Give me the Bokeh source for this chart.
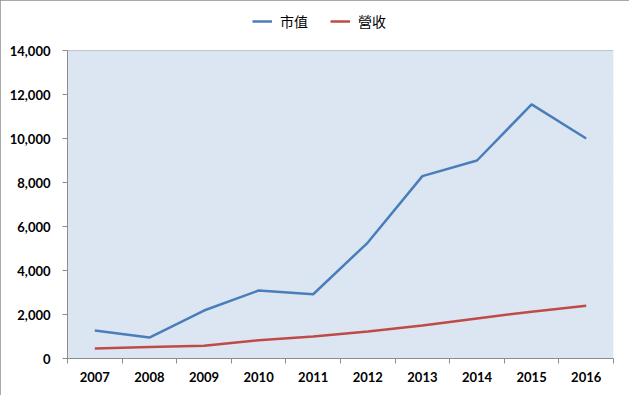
from bokeh.plotting import figure
from bokeh.models import Legend, LegendItem, FixedTicker, NumeralTickFormatter, Range1d, BoxAnnotation
from bokeh.embed import file_html
from bokeh.resources import INLINE

years = [2007, 2008, 2009, 2010, 2011, 2012, 2013, 2014, 2015, 2016]
market_value = [1270, 950, 2180, 3090, 2920, 5270, 8290, 9000, 11550, 10000]
revenue = [450, 520, 580, 830, 1000, 1230, 1500, 1820, 2130, 2400]
y_ticks = [0, 2000, 4000, 6000, 8000, 10000, 12000, 14000]
y_max = 14000
series_names = ["市值", "營收"]

# layout (pixels)
W, H = 629, 395
left, right, top, bottom = 67, 16, 5, 37
axis_top_px = 50  # pixel row of y_max
frame_h = H - top - bottom
y_end = y_max * (H - bottom - top) / (H - bottom - axis_top_px)

p = figure(width=W, height=H, output_backend="svg", toolbar_location=None,
           x_range=Range1d(2006.5, 2016.5), y_range=Range1d(0, y_end),
           min_border_left=left, min_border_right=right,
           min_border_top=top, min_border_bottom=bottom)
p.styles = {"outline": "2px solid #8c8c8c", "outline-offset": "-2px"}

p.background_fill_color = "white"
p.border_fill_color = "white"
p.outline_line_color = None

p.add_layout(BoxAnnotation(bottom=0, top=y_max, fill_color="#DCE6F2", fill_alpha=1,
                           line_color=None, level="underlay"))

r1 = p.line(years, market_value, line_color="#4A7EBB", line_width=2.5)
r2 = p.line(years, revenue, line_color="#BE4B48", line_width=2.5)

font = "Lato"
p.xaxis.ticker = FixedTicker(ticks=years, minor_ticks=[y - 0.5 for y in years] + [2016.5])
p.xaxis.major_tick_line_color = None
p.xaxis.minor_tick_out = 5
p.xaxis.minor_tick_in = 0
p.xaxis.minor_tick_line_color = "#8c8c8c"
p.xaxis.axis_line_color = "#8c8c8c"
p.xaxis.major_label_text_font = font
p.xaxis.major_label_text_font_style = "bold"
p.xaxis.major_label_text_font_size = "13px"
p.xaxis.major_label_text_color = "black"
p.xaxis.major_label_standoff = 7

p.yaxis.ticker = FixedTicker(ticks=y_ticks)
p.yaxis.bounds = (0, y_max)
p.yaxis.formatter = NumeralTickFormatter(format="0,0")
p.yaxis.minor_tick_line_color = None
p.yaxis.major_tick_out = 5
p.yaxis.major_tick_in = 0
p.yaxis.major_tick_line_color = "#8c8c8c"
p.yaxis.axis_line_color = "#8c8c8c"
p.yaxis.major_label_text_font = font
p.yaxis.major_label_text_font_style = "bold"
p.yaxis.major_label_text_font_size = "13px"
p.yaxis.major_label_text_color = "black"
p.yaxis.major_label_standoff = 12

p.xgrid.grid_line_color = None
p.ygrid.grid_line_color = "#A6A6A6"
p.ygrid.grid_line_width = 1
p.ygrid.bounds = (0, y_max)

legend = Legend(items=[LegendItem(label=series_names[0], renderers=[r1]),
                       LegendItem(label=series_names[1], renderers=[r2])],
                orientation="horizontal", location=(252 - left, (H - bottom) - 31),
                label_text_font="Noto Sans CJK TC", label_text_font_size="14px",
                label_text_color="black",
                border_line_color=None, background_fill_alpha=0,
                glyph_width=20, glyph_height=20, spacing=22, label_standoff=8,
                margin=0, padding=0)
p.add_layout(legend)

open("out.html", "w").write(file_html(p, INLINE))
